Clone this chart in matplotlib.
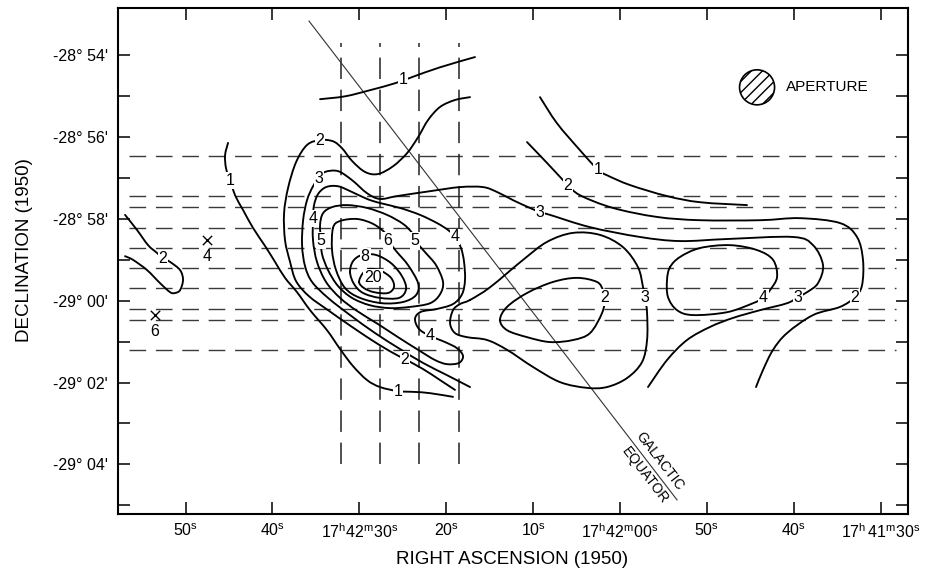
import numpy as np
import matplotlib
matplotlib.use("Agg")
import matplotlib.pyplot as plt
from matplotlib.path import Path
from matplotlib.patches import PathPatch, Ellipse

plt.rcParams['font.family'] = ['Liberation Sans', 'DejaVu Sans']
plt.rcParams['mathtext.fontset'] = 'custom'
plt.rcParams['mathtext.rm'] = 'Liberation Sans'
plt.rcParams['mathtext.it'] = 'Liberation Sans:italic'
plt.rcParams['mathtext.bf'] = 'Liberation Sans:bold'

# Coordinates: RA offset in seconds of time from 17h42m00s (1950),
# Dec offset in arcmin from -29d00' (1950), north positive.

# ---- contour level 1 ----
c1_upper_ra = [34.52, 31.64, 28.77, 25.89, 23.93, 20.71, 16.69]
c1_upper_dec = [4.93, 5.00, 5.15, 5.32, 5.47, 5.71, 5.96]
c1_lower_ra = [45.11, 45.45, 45.34, 44.88, 44.30, 43.38, 42.23, 40.85, 39.70, 38.55, 37.17,
               35.67, 33.72, 32.22, 30.72, 29.11, 27.62, 25.55, 23.59, 21.86, 19.22]
c1_lower_dec = [3.86, 3.56, 3.24, 2.95, 2.58, 2.22, 1.78, 1.34, 0.95, 0.56, 0.21,
                -0.23, -0.72, -1.18, -1.60, -1.94, -2.11, -2.21, -2.23, -2.26, -2.35]
c1_right_ra = [9.21, 7.25, 4.60, 2.53, 1.50, -1.15, -5.41, -9.21, -14.61]
c1_right_dec = [4.98, 4.34, 3.68, 3.20, 3.07, 2.83, 2.56, 2.41, 2.34]

# ---- contour level 2 ----
c2_main_ra = [17.26, 18.99, 20.71, 22.09, 23.24, 24.51, 26.12, 27.85, 29.34, 30.84, 31.99, 33.03,
              34.52, 36.02, 37.28, 38.20, 38.66, 38.55, 37.97, 37.28, 35.79, 33.60, 30.84, 27.85,
              25.66, 24.74, 22.67, 20.71, 18.99]
c2_main_dec = [4.98, 4.91, 4.74, 4.42, 4.00, 3.61, 3.29, 3.10, 3.15, 3.42, 3.73, 3.90,
               3.93, 3.81, 3.39, 2.76, 2.14, 1.48, 0.95, 0.48, 0.11, -0.23, -0.64, -1.06,
               -1.33, -1.43, -1.67, -1.94, -2.18]
c2_right_ra = [10.70, 8.40, 6.56, 5.98, 4.60, 0.81, -4.26, -9.21, -16.11, -20.71, -25.32,
               -27.27, -27.96, -27.85, -27.04, -25.32, -22.21, -19.22, -17.61, -16.46, -15.65]
c2_right_dec = [3.88, 3.37, 2.95, 2.83, 2.58, 2.27, 2.05, 1.97, 1.97, 2.02, 1.90,
                1.56, 1.00, 0.38, 0.09, -0.15, -0.35, -0.79, -1.20, -1.69, -2.11]
c2_loop_ra = [13.81, 13.00, 10.70, 7.71, 4.95, 2.65, 1.96, 1.73, 2.07, 3.45, 5.41, 8.05, 10.70, 13.00, 13.81]
c2_loop_dec = [-0.47, -0.15, 0.19, 0.46, 0.56, 0.46, 0.26, 0.07, -0.30, -0.79, -0.96, -1.01, -0.89, -0.72, -0.47]
c2_small_ra = [56.96, 55.58, 54.31, 53.28, 52.59, 51.78, 50.63, 50.29, 50.63, 51.21, 51.78, 52.93, 54.43, 56.04, 56.96]
c2_small_dec = [2.10, 1.73, 1.36, 1.17, 1.04, 0.95, 0.75, 0.51, 0.26, 0.19, 0.21, 0.43, 0.75, 1.00, 1.09]

# ---- contour level 3 ----
c3_main_ra = [17.26, 19.91, 22.67, 25.32, 28.19, 31.07, 33.60, 35.44, 36.25, 36.59, 36.47, 36.02,
              35.33, 34.64, 33.95, 32.45, 30.84, 29.11, 27.62, 25.66, 21.86, 18.41, 15.76, 14.15,
              12.31, 10.36, 9.21, 8.05, 3.45, -2.30, -6.90, -12.31, -19.91, -22.21, -23.36,
              -22.78, -21.52, -20.48, -19.22, -16.11, -13.00, -10.36, -7.71, -5.41, -3.22]
c3_main_dec = [-2.11, -1.82, -1.52, -1.18, -0.79, -0.35, 0.07, 0.46, 0.85, 1.36, 1.97, 2.46,
               2.80, 3.00, 3.15, 3.17, 2.95, 2.63, 2.49, 2.56, 2.68, 2.78, 2.78, 2.66,
               2.46, 2.27, 2.17, 2.10, 1.80, 1.56, 1.46, 1.51, 1.56, 1.36, 0.87,
               0.43, 0.21, 0.09, -0.06, -0.23, -0.42, -0.64, -0.96, -1.45, -2.11]
c3_loop_ra = [17.26, 14.96, 11.16, 8.40, 5.41, 2.30, -0.35, -2.07, -2.65, -2.88, -3.11, -3.11, -2.53,
              -0.81, 1.50, 3.80, 6.90, 10.01, 13.00, 15.30, 17.61, 18.99, 19.56, 19.22, 18.41, 17.26]
c3_loop_dec = [0.02, 0.33, 1.00, 1.44, 1.66, 1.61, 1.31, 0.82, 0.33, 0.07, -0.30, -0.96, -1.50,
               -1.89, -2.11, -2.13, -1.99, -1.62, -1.20, -0.96, -0.89, -0.79, -0.55, -0.23, -0.08, 0.02]

# ---- contour level 4 ----
c4_main_ra = [35.33, 35.21, 34.75, 33.83, 32.45, 30.84, 29.11, 27.62, 25.32, 23.01, 21.06, 19.79,
              18.99, 18.30, 17.95, 17.84, 18.18, 19.22, 21.06, 22.90, 23.59, 23.13, 21.86, 20.14,
              18.76, 18.07, 18.53, 19.91, 21.29, 23.24, 25.55, 27.85, 30.26, 32.22, 33.83, 34.87,
              35.33, 35.33]
c4_main_dec = [2.02, 2.34, 2.61, 2.78, 2.80, 2.66, 2.49, 2.39, 2.27, 2.10, 1.90, 1.73,
               1.56, 1.29, 0.95, 0.51, 0.16, -0.08, -0.20, -0.27, -0.44, -0.69, -0.86, -1.01,
               -1.16, -1.35, -1.52, -1.55, -1.45, -1.20, -0.89, -0.57, -0.25, 0.07, 0.46, 0.95,
               1.48, 2.02]
c4_right_ra = [-5.75, -6.90, -9.21, -12.66, -15.76, -17.61, -18.07, -17.26, -16.46, -15.30,
               -12.31, -8.40, -6.56, -5.52, -5.41, -5.75]
c4_right_dec = [0.82, 1.07, 1.29, 1.36, 1.24, 1.00, 0.58, 0.26, 0.07, -0.06,
                -0.28, -0.35, -0.23, 0.09, 0.51, 0.82]

# ---- contour levels 5, 6, 8, 20 ----
c5_ra = [34.41, 34.52, 34.18, 33.14, 31.41, 29.11, 26.81, 24.97, 23.93, 23.59, 22.44, 21.17,
         20.37, 20.71, 21.86, 24.16, 26.47, 28.77, 30.84, 32.45, 33.60, 34.29, 34.41]
c5_dec = [1.48, 1.85, 2.14, 2.29, 2.34, 2.27, 2.10, 1.88, 1.66, 1.48, 1.19, 0.87,
          0.46, 0.16, -0.06, -0.15, -0.18, -0.11, 0.07, 0.36, 0.75, 1.14, 1.48]
c6_ra = [33.03, 32.22, 30.26, 28.42, 27.04, 26.70, 25.78, 24.39, 23.24, 23.47, 24.97, 27.39,
         29.92, 31.64, 32.68, 33.14, 33.03]
c6_dec = [1.78, 1.95, 2.00, 1.88, 1.66, 1.48, 1.22, 0.87, 0.43, 0.14, -0.03, -0.06,
          0.07, 0.31, 0.75, 1.24, 1.78]
c8_ra = [31.07, 30.72, 29.69, 28.08, 26.35, 25.09, 24.62, 25.43, 27.62, 29.57, 30.61, 31.07]
c8_dec = [0.70, 0.97, 1.12, 1.12, 0.92, 0.60, 0.29, 0.07, 0.07, 0.19, 0.41, 0.70]
c20_ra = [30.03, 29.57, 28.77, 27.50, 26.35, 26.01, 26.70, 28.31, 29.46, 30.03]
c20_dec = [0.46, 0.68, 0.78, 0.73, 0.56, 0.34, 0.19, 0.21, 0.31, 0.46]

# ---- contour labels ----
label_ra = [24.97, 44.88, 25.55, 2.53, 34.52, 24.74, 5.98, 1.73, -27.04, 52.59, 34.64, 9.21,
            -2.88, -20.48, 35.33, 18.99, 21.86, -16.46, 34.41, 23.59, 26.70, 29.34, 28.42]
label_dec = [5.40, 2.95, -2.21, 3.20, 3.93, -1.43, 2.83, 0.07, 0.09, 1.04, 3.00, 2.17,
             0.07, 0.09, 2.02, 1.56, -0.86, 0.07, 1.48, 1.48, 1.48, 1.09, 0.58]
label_text = ['1', '1', '1', '1', '2', '2', '2', '2', '2', '2', '3', '3',
              '3', '3', '4', '4', '4', '4', '5', '5', '6', '8', '20']

# ---- point sources ----
source_ra = [47.52, 53.51]
source_dec = [1.48, -0.35]
source_flux = ['4', '6']

# ---- scan tracks ----
scan_dec = [3.55, 2.55, 2.29, 1.79, 1.29, 0.79, 0.30, -0.20, -0.46, -1.21]
scan_ra_extent = [56.5, -31.8]
cross_scan_ra = [32.1, 27.6, 23.1, 18.5]
cross_scan_dec_extent = [-4.0, 6.3]

# ---- galactic equator ----
equator_ra = [35.79, -6.56]
equator_dec = [6.84, -4.87]

# ---- aperture ----
aperture_ra = -15.77
aperture_dec = 5.22
aperture_width_s = 4.03
aperture_height_arcmin = 0.856

# ---- axes ticks ----
ra_ticks = [50, 40, 30, 20, 10, 0, -10, -20, -30]
ra_tick_labels = [r'$\mathrm{50^s}$', r'$\mathrm{40^s}$', r'$\mathrm{17^h42^m30^s}$',
                  r'$\mathrm{20^s}$', r'$\mathrm{10^s}$', r'$\mathrm{17^h42^m00^s}$',
                  r'$\mathrm{50^s}$', r'$\mathrm{40^s}$', r'$\mathrm{17^h\,41^m30^s}$']
dec_ticks = [6, 4, 2, 0, -2, -4]
dec_tick_labels = ["-28° 54'", "-28° 56'", "-28° 58'", "-29° 00'", "-29° 02'", "-29° 04'"]
dec_minor_ticks = [5, 3, 1, -1, -3, -5]


def smooth_path(xs, ys, closed):
    P = np.column_stack([xs, ys]).astype(float)
    if closed and np.allclose(P[0], P[-1]):
        P = P[:-1]
    n = len(P)
    verts = [P[0]]
    codes = [Path.MOVETO]
    nseg = n if closed else n - 1
    for i in range(nseg):
        if closed:
            p0, p1, p2, p3 = P[(i - 1) % n], P[i % n], P[(i + 1) % n], P[(i + 2) % n]
        else:
            p0 = P[max(i - 1, 0)]
            p1 = P[i]
            p2 = P[i + 1]
            p3 = P[min(i + 2, n - 1)]
        c1 = p1 + (p2 - p0) / 6.0
        c2 = p2 - (p3 - p1) / 6.0
        verts += [c1, c2, p2]
        codes += [Path.CURVE4] * 3
    return Path(verts, codes)


fig = plt.figure(figsize=(9.37, 5.69), dpi=100)
ax = fig.add_axes([117.5 / 937, 1 - 514 / 569, (908 - 117.5) / 937, (514 - 8) / 569])
ax.set_xlim(57.83, -33.14)
ax.set_ylim(-5.215, 7.16)

# scan tracks (dashed)
for dec in scan_dec:
    ax.plot(scan_ra_extent, [dec, dec], color='#3a3a3a', lw=1.0, dashes=(12, 7), zorder=1)
for ra in cross_scan_ra:
    ax.plot([ra, ra], cross_scan_dec_extent, color='#222222', lw=1.1, dashes=(14, 7), zorder=1)

# galactic equator
ax.plot(equator_ra, equator_dec, color='#333333', lw=0.8, zorder=2)

contours = [
    (c1_upper_ra, c1_upper_dec, False), (c1_lower_ra, c1_lower_dec, False),
    (c1_right_ra, c1_right_dec, False),
    (c2_main_ra, c2_main_dec, False), (c2_right_ra, c2_right_dec, False),
    (c2_loop_ra, c2_loop_dec, True), (c2_small_ra, c2_small_dec, False),
    (c3_main_ra, c3_main_dec, False), (c3_loop_ra, c3_loop_dec, True),
    (c4_main_ra, c4_main_dec, True), (c4_right_ra, c4_right_dec, True),
    (c5_ra, c5_dec, True), (c6_ra, c6_dec, True), (c8_ra, c8_dec, True), (c20_ra, c20_dec, True),
]
for xs, ys, closed in contours:
    ax.add_patch(PathPatch(smooth_path(xs, ys, closed), fill=False, ec='black', lw=1.35,
                           zorder=3, capstyle='round', joinstyle='round'))

for ra, dec, t in zip(label_ra, label_dec, label_text):
    ax.text(ra, dec, t, fontsize=11.5, ha='center', va='center', zorder=5,
            bbox=dict(boxstyle='square,pad=0.06', fc='white', ec='none'))

# point sources
ax.scatter(source_ra, source_dec, marker='x', s=45, lw=1.0, c='black', zorder=4)
for ra, dec, t in zip(source_ra, source_dec, source_flux):
    ax.annotate(t, (ra, dec), xytext=(0, -12), textcoords='offset points',
                ha='center', va='center', fontsize=11.5)

# aperture
ax.add_patch(Ellipse((aperture_ra, aperture_dec), aperture_width_s, aperture_height_arcmin,
                     fc='white', ec='black', lw=1.2, hatch='///', zorder=4))
ax.annotate('APERTURE', (aperture_ra, aperture_dec), xytext=(21, 0), textcoords='offset points',
            ha='left', va='center', fontsize=11)

# galactic equator label
p0 = ax.transData.transform((equator_ra[0], equator_dec[0]))
p1 = ax.transData.transform((equator_ra[1], equator_dec[1]))
ang = np.degrees(np.arctan2(p1[1] - p0[1], p1[0] - p0[0]))
t = 0.925
anchor = (equator_ra[0] + t * (equator_ra[1] - equator_ra[0]),
          equator_dec[0] + t * (equator_dec[1] - equator_dec[0]))
ax.annotate('GALACTIC', anchor, xytext=(7, 2), textcoords='offset points', rotation=ang,
            ha='center', va='center', fontsize=10, rotation_mode='anchor')
ax.annotate('EQUATOR', anchor, xytext=(-3, -8), textcoords='offset points', rotation=ang,
            ha='center', va='center', fontsize=10, rotation_mode='anchor')

# ticks
ax.set_xticks(ra_ticks)
ax.set_xticklabels(ra_tick_labels, fontsize=11.5)
ax.set_yticks(dec_ticks)
ax.set_yticklabels(dec_tick_labels, fontsize=11.5)
ax.set_yticks(dec_minor_ticks, minor=True)
ax.tick_params(which='both', direction='in', length=8.5, width=1.1, top=True, right=True,
               labeltop=False, labelright=False)
ax.tick_params(axis='x', pad=6)
ax.tick_params(axis='y', pad=7)
for sp in ax.spines.values():
    sp.set_linewidth(1.5)

fig.text(512 / 937, 1 - 559 / 569, 'RIGHT ASCENSION (1950)', ha='center', va='center', fontsize=13.5)
fig.text(25 / 937, 1 - 250 / 569, 'DECLINATION (1950)', ha='center', va='center', fontsize=13.5,
         rotation=90)

fig.savefig('out.png', dpi=100)
